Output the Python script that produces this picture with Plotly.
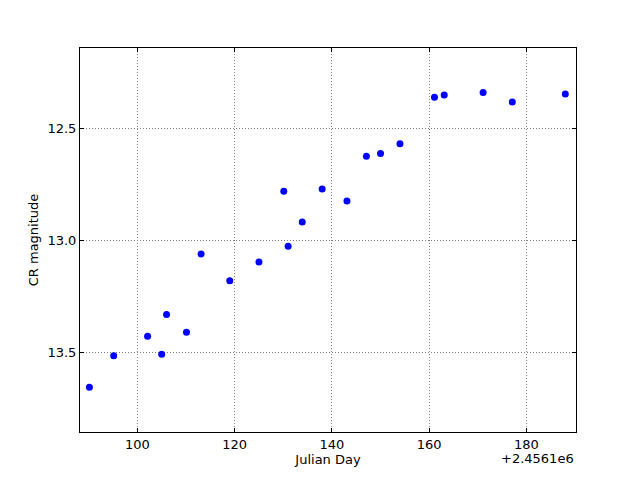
import plotly.graph_objects as go

JD_OFFSET = 2456100
days = [90.13, 95.13, 102.1, 105.0, 106.0, 110.1, 113.1, 119.0, 125.0, 130.1, 131.0,
        133.9, 138.0, 143.1, 147.1, 150.0, 154.0, 161.1, 163.1, 171.1, 177.1, 188.0]
mags = [13.655, 13.515, 13.427, 13.508, 13.33, 13.41, 13.06, 13.179, 13.096, 12.78, 13.025,
        12.917, 12.77, 12.823, 12.623, 12.611, 12.568, 12.36, 12.35, 12.339, 12.381, 12.345]
x_ticks = [100, 120, 140, 160, 180]
y_ticks = [12.5, 13.0, 13.5]

fig = go.Figure(go.Scatter(x=days, y=mags, mode="markers",
                           marker=dict(color="#0000ff", size=7, line=dict(width=0))))

axis_common = dict(showline=True, linecolor="black", linewidth=1, mirror="ticks",
                   ticks="inside", ticklen=4, tickcolor="black", automargin=False,
                   showgrid=True, gridcolor="#808080", griddash="1px,2px", gridwidth=1,
                   zeroline=False, tickfont=dict(family="DejaVu Sans", size=13, color="black"))

# page body has an 8px default margin, so margins are reduced to compensate
fig.update_layout(
    width=640, height=480,
    paper_bgcolor="white", plot_bgcolor="white",
    margin=dict(l=72, r=72, t=40, b=56),
    showlegend=False,
    font=dict(family="DejaVu Sans", size=13, color="black"),
    xaxis=dict(range=[88.2, 190.2], tickvals=x_ticks, ticktext=[str(t) for t in x_ticks],
               title=dict(text="Julian Day", standoff=0, font=dict(size=13)), **axis_common),
    yaxis=dict(range=[13.855, 12.14], tickvals=y_ticks, ticktext=[f"{t:.1f}" for t in y_ticks],
               title=dict(text="CR magnitude", standoff=5, font=dict(size=13)), **axis_common),
    annotations=[dict(text="+%.4fe6" % (JD_OFFSET / 1e6), xref="paper", yref="paper",
                      x=1.0, y=0, xanchor="right", yanchor="top", yshift=-17,
                      showarrow=False, font=dict(size=13))],
)

fig.write_html("out.html")
